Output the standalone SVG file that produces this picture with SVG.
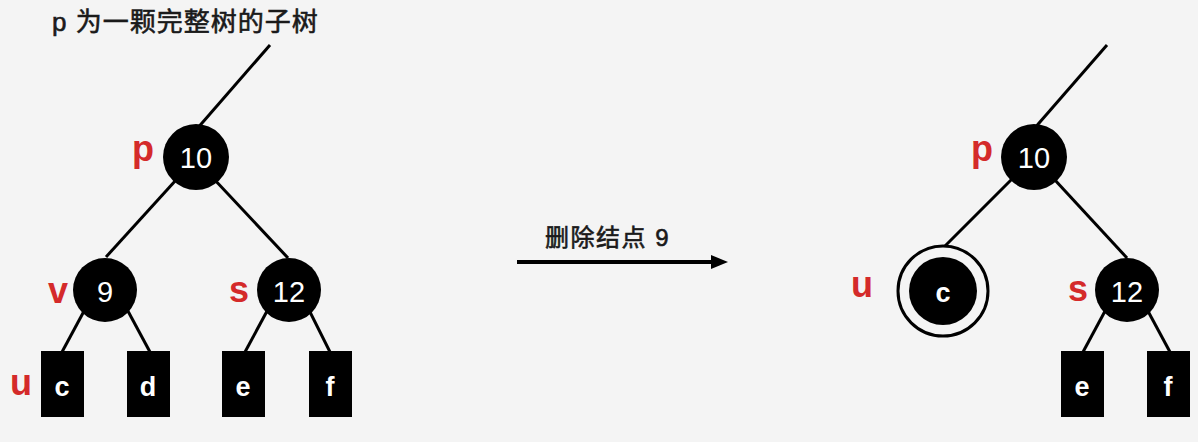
<svg xmlns="http://www.w3.org/2000/svg" width="1198" height="442" viewBox="0 0 1198 442">
<defs>
<style>
.edge{stroke:#000;stroke-width:3;fill:none}
.node{fill:#000}
.nt{fill:#fff;font-family:"Liberation Sans","Noto Sans CJK SC",sans-serif;font-size:29px;text-anchor:middle}
.lt{fill:#fff;font-family:"Liberation Sans",sans-serif;font-size:27px;font-weight:bold;text-anchor:middle}
.lbl{fill:#d42a2a;font-family:"Liberation Sans",sans-serif;font-size:36px;font-weight:bold;text-anchor:middle}
.cap{fill:#1a1a1a;stroke:#1a1a1a;stroke-width:0.6;font-family:"Liberation Sans","Noto Sans CJK SC",sans-serif;font-weight:normal}
</style>
</defs>
<rect width="1198" height="442" fill="#f4f4f4"/>
<text class="cap" x="52" y="31" font-size="26" letter-spacing="1">p 为一颗完整树的子树</text>
<g id="connectors">
<line class="edge" x1="270" y1="45" x2="196" y2="130"/>
<line class="edge" x1="176" y1="180" x2="106" y2="257"/>
<line class="edge" x1="213" y1="178" x2="288" y2="258"/>
<line class="edge" x1="90" y1="300" x2="62" y2="352"/>
<line class="edge" x1="122" y1="300" x2="150" y2="352"/>
<line class="edge" x1="273" y1="300" x2="245" y2="352"/>
<line class="edge" x1="304" y1="300" x2="330" y2="352"/>
<line class="edge" x1="1107" y1="45" x2="1033" y2="130"/>
<line class="edge" x1="1012" y1="179" x2="943" y2="248"/>
<line class="edge" x1="1054" y1="179" x2="1127" y2="258"/>
<line class="edge" x1="1111" y1="300" x2="1083" y2="352"/>
<line class="edge" x1="1142" y1="300" x2="1170" y2="352"/>
<line x1="517" y1="262" x2="714" y2="262" stroke="#000" stroke-width="4"/>
<polygon points="711,255 728,262 711,269" fill="#000"/>
</g>
<text class="cap" x="545" y="246" font-size="24" letter-spacing="1.5">删除结点 9</text>
<g id="n10">
<circle class="node" cx="196" cy="157" r="33"/>
<text class="nt" x="196" y="168">10</text>
<text class="lbl" x="143" y="161">p</text>
</g>
<g id="n9">
<circle class="node" cx="105" cy="290" r="32"/>
<text class="nt" x="105" y="302">9</text>
<text class="lbl" x="58" y="303">v</text>
</g>
<g id="n12">
<circle class="node" cx="289" cy="290" r="32"/>
<text class="nt" x="289" y="302">12</text>
<text class="lbl" x="239" y="302">s</text>
</g>
<g id="lc">
<rect class="node" x="41" y="351" width="43" height="66"/>
<text class="lt" x="62" y="396">c</text>
<text class="lbl" x="21" y="395">u</text>
</g>
<g id="ld">
<rect class="node" x="127" y="351" width="43" height="66"/>
<text class="lt" x="148" y="396">d</text>
</g>
<g id="le">
<rect class="node" x="222" y="351" width="43" height="66"/>
<text class="lt" x="243" y="396">e</text>
</g>
<g id="lf">
<rect class="node" x="309" y="351" width="43" height="66"/>
<text class="lt" x="330" y="396">f</text>
</g>
<g id="r10">
<circle class="node" cx="1034" cy="157" r="33"/>
<text class="nt" x="1034" y="168">10</text>
<text class="lbl" x="982" y="161">p</text>
</g>
<g id="ru">
<circle cx="943" cy="291" r="45" fill="#f4f4f4" stroke="#000" stroke-width="3"/>
<circle class="node" cx="943" cy="291" r="34"/>
<text class="lt" x="943" y="302">c</text>
<text class="lbl" x="862" y="297">u</text>
</g>
<g id="r12">
<circle class="node" cx="1127" cy="290" r="32"/>
<text class="nt" x="1127" y="302">12</text>
<text class="lbl" x="1078" y="301">s</text>
</g>
<g id="re">
<rect class="node" x="1061" y="351" width="43" height="66"/>
<text class="lt" x="1082" y="396">e</text>
</g>
<g id="rf">
<rect class="node" x="1147" y="351" width="43" height="66"/>
<text class="lt" x="1168" y="396">f</text>
</g>
</svg>
